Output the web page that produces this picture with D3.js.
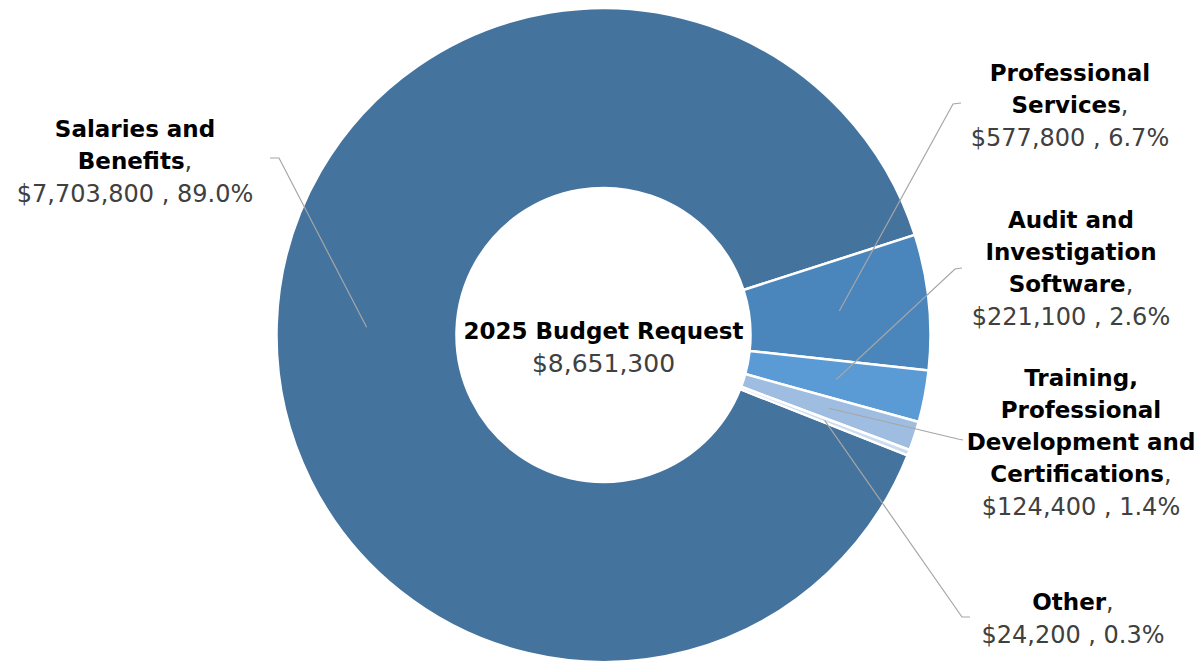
<!DOCTYPE html>
<html><head><meta charset="utf-8">
<script src="https://cdn.jsdelivr.net/npm/d3@7"></script>
<style>html,body{margin:0;padding:0;background:#fff;}svg{display:block;}</style>
</head><body>
<svg id="chart" width="1198" height="664"></svg>
<script>
const categories = ["Salaries and Benefits", "Professional Services", "Audit and Investigation Software", "Training, Professional Development and Certifications", "Other"];
const values = [7703800, 577800, 221100, 124400, 24200];
const labelLines = [
  ["Salaries and", "Benefits"],
  ["Professional", "Services"],
  ["Audit and", "Investigation", "Software"],
  ["Training,", "Professional", "Development and", "Certifications"],
  ["Other"]
];
const colors = ["#44739E", "#4A86BB", "#5B9BD5", "#9FBCE1", "#CCDCF0"];
const centerTitle = "2025 Budget Request";

const total = d3.sum(values);
const svg = d3.select("#chart");
const cx = 603.5, cy = 335, outerR = 327, innerR = 147;
const g = svg.append("g").attr("transform", `translate(${cx},${cy})`);

const startDeg = 111.6;
const pie = d3.pie().sort(null).value(d => d)
  .startAngle(startDeg * Math.PI / 180)
  .endAngle((startDeg + 360) * Math.PI / 180);
const arcs = pie(values);
const arc = d3.arc().innerRadius(innerR).outerRadius(outerR);

g.selectAll("path.slice").data(arcs).join("path")
  .attr("class", "slice")
  .attr("d", arc)
  .attr("fill", (d, i) => colors[i])
  .attr("stroke", "#fff").attr("stroke-width", 2.5).attr("stroke-linejoin", "round");

// label layout (absolute positions)
const labelLayout = [
  {x: 135, y: 129, anchor: [[270, 158], [279, 158]]},
  {x: 1070, y: 73, anchor: [[961, 103], [953, 104]]},
  {x: 1071, y: 220, anchor: [[962, 268], [955, 269]]},
  {x: 1081, y: 378, anchor: [[963, 440], [958, 439]]},
  {x: 1073, y: 602, anchor: [[970, 617], [962, 617]]}
];
const lineH = 32;
const fmtMoney = d3.format("$,");
const fmtPct = d3.format(".1%");

// leader lines
arcs.forEach((a, i) => {
  const c = arc.centroid(a);
  const pts = labelLayout[i].anchor.concat([[c[0] + cx, c[1] + cy]]);
  svg.append("path")
    .attr("d", d3.line()(pts))
    .attr("fill", "none").attr("stroke", "#A6A6A6").attr("stroke-width", 1.2);
});

// labels
arcs.forEach((a, i) => {
  const L = labelLayout[i];
  const t = svg.append("text")
    .attr("text-anchor", "middle")
    .attr("font-family", "DejaVu Sans, sans-serif");
  const lines = labelLines[i];
  lines.forEach((ln, j) => {
    const ts = t.append("tspan").attr("x", L.x).attr("y", L.y + j * lineH)
      .attr("dominant-baseline", "central");
    ts.append("tspan").attr("font-weight", "bold").attr("font-size", 23).attr("fill", "#000").text(ln);
    if (j === lines.length - 1) {
      ts.append("tspan").attr("font-size", 24).attr("fill", "#404040").text(",");
    }
  });
  t.append("tspan").attr("x", L.x).attr("y", L.y + lines.length * lineH + 1)
    .attr("dominant-baseline", "central")
    .attr("font-size", 24).attr("fill", "#404040")
    .text(fmtMoney(values[i]) + " , " + fmtPct(values[i] / total));
});

// center label
const ct = svg.append("text").attr("text-anchor", "middle").attr("font-family", "DejaVu Sans, sans-serif");
ct.append("tspan").attr("x", cx).attr("y", 331).attr("dominant-baseline", "central")
  .attr("font-weight", "bold").attr("font-size", 23).attr("fill", "#000").text(centerTitle);
ct.append("tspan").attr("x", cx).attr("y", 363).attr("dominant-baseline", "central")
  .attr("font-size", 25).attr("fill", "#404040").text(fmtMoney(total));
</script>
</body></html>
